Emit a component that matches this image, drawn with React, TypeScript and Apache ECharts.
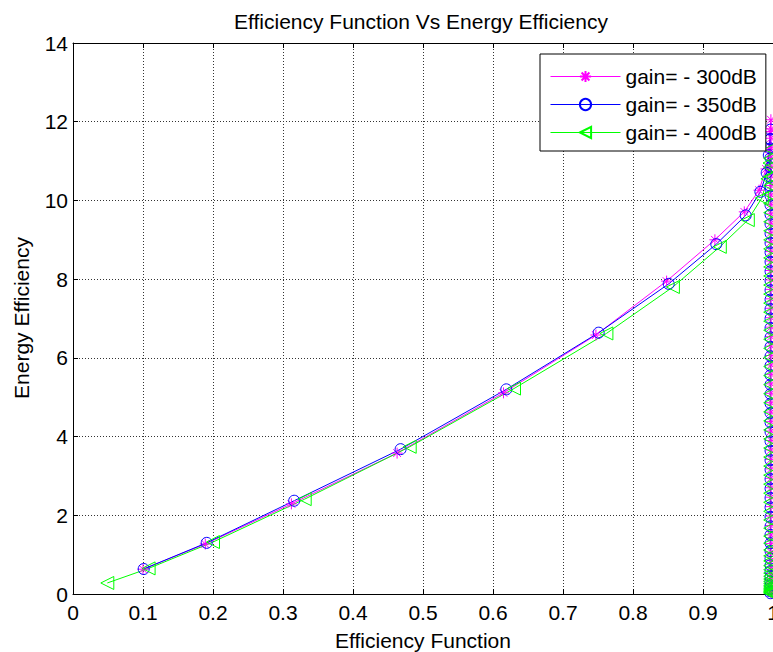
import React, { useEffect, useRef } from "react";
import * as echarts from "echarts";

const FONT = "'Liberation Sans', Arial, Helvetica, sans-serif";

const seriesNames = ["gain= - 300dB", "gain= - 350dB", "gain= - 400dB"];
const seriesColors = ["#ff00ff", "#0000ff", "#00ff00"];

const xTicks = [0, 0.1, 0.2, 0.3, 0.4, 0.5, 0.6, 0.7, 0.8, 0.9, 1];
const yTicks = [0, 2, 4, 6, 8, 10, 12, 14];

// rising part of each curve [efficiency function, energy efficiency]
const rise300: [number, number][] = [
  [0.1, 0.63], [0.189, 1.27], [0.312, 2.29], [0.463, 3.58], [0.615, 5.11],
  [0.747, 6.58], [0.848, 7.95], [0.917, 9.0], [0.959, 9.71], [0.98, 10.26],
  [0.99, 10.8], [0.994, 11.3], [0.996, 11.75],
];
const rise350: [number, number][] = [
  [0.101, 0.635], [0.191, 1.3], [0.316, 2.37], [0.468, 3.68], [0.619, 5.2],
  [0.751, 6.64], [0.851, 7.88], [0.919, 8.89], [0.961, 9.62], [0.982, 10.22],
  [0.991, 10.7], [0.994, 11.15], [0.996, 11.55],
];
const rise400: [number, number][] = [
  [0.049, 0.28], [0.108, 0.65], [0.2, 1.32], [0.331, 2.41], [0.481, 3.74],
  [0.63, 5.22], [0.762, 6.62], [0.857, 7.8], [0.924, 8.82], [0.964, 9.5],
  [0.984, 10.06], [0.992, 10.55], [0.995, 10.95],
];

// falling part near efficiency function ~ 1
const tailX300 = 0.997;
const tailX350 = 0.9965;
const tailX400 = 0.996;
const tail300 = [12.05, 11.82, 11.58, 11.34, 11.1, 10.86, 10.62, 10.38, 10.14, 9.9, 9.66, 9.42, 9.18, 8.94, 8.7, 8.46, 8.22, 7.98, 7.74, 7.5, 7.26, 7.02, 6.78, 6.54, 6.3, 6.06, 5.82, 5.58, 5.34, 5.1, 4.86, 4.62, 4.38, 4.14, 3.9, 3.66, 3.42, 3.18, 2.94, 2.7, 2.46, 2.22, 1.98, 1.74, 1.5, 1.28, 1.06, 0.86, 0.68, 0.52, 0.38, 0.26, 0.16, 0.08, 0.03];
const tail350 = [11.8, 11.56, 11.32, 11.08, 10.84, 10.6, 10.36, 10.12, 9.88, 9.64, 9.4, 9.16, 8.92, 8.68, 8.44, 8.2, 7.96, 7.72, 7.48, 7.24, 7.0, 6.76, 6.52, 6.28, 6.04, 5.8, 5.56, 5.32, 5.08, 4.84, 4.6, 4.36, 4.12, 3.88, 3.64, 3.4, 3.16, 2.92, 2.68, 2.44, 2.2, 1.96, 1.72, 1.5, 1.29, 1.09, 0.9, 0.73, 0.58, 0.44, 0.32, 0.22, 0.14, 0.07, 0.02];
const tail400 = [11.3, 11.07, 10.84, 10.61, 10.38, 10.15, 9.92, 9.69, 9.46, 9.23, 9.0, 8.77, 8.54, 8.31, 8.08, 7.85, 7.62, 7.39, 7.16, 6.93, 6.7, 6.47, 6.24, 6.01, 5.78, 5.55, 5.32, 5.09, 4.86, 4.63, 4.4, 4.17, 3.94, 3.71, 3.48, 3.25, 3.02, 2.79, 2.56, 2.33, 2.1, 1.88, 1.67, 1.47, 1.29, 1.12, 0.97, 0.84, 0.72, 0.62, 0.53, 0.45, 0.38, 0.32, 0.27, 0.22, 0.18, 0.14, 0.11, 0.08, 0.06, 0.04, 0.02];

const titleText = "Efficiency Function Vs Energy Efficiency";
const xName = "Efficiency Function";
const yName = "Energy Efficiency";

const ASTERISK = "path://M5,0L5,10M0,5L10,5M1.5,1.5L8.5,8.5M1.5,8.5L8.5,1.5";

export default function App() {
  const ref = useRef<HTMLDivElement>(null);
  useEffect(() => {
    if (!ref.current) return;
    const chart = echarts.init(ref.current, null, { renderer: "svg", width: 773, height: 652 });
    const build = (rise: [number, number][], tx: number, tail: number[]) =>
      rise.concat(tail.map((y) => [tx, y] as [number, number]));
    const datas = [
      build(rise300, tailX300, tail300),
      build(rise350, tailX350, tail350),
      build(rise400, tailX400, tail400),
    ];
    const symbols = [ASTERISK, "circle", "triangle"];
    const sizes = [11, 11, 13];
    const rotates = [0, 0, 90];
    const gridLine = { show: true, lineStyle: { color: "#333", type: [1, 2], width: 1 } };
    chart.setOption({
      animation: false,
      backgroundColor: "#fff",
      grid: {
        left: 73,
        right: 0,
        top: 43,
        bottom: 58,
        containLabel: false,
        outerBoundsMode: "none",
      },
      xAxis: [
        {
          type: "value",
          min: 0,
          max: 1,
          interval: 0.1,
          position: "bottom",
          axisLine: { show: true, onZero: false, lineStyle: { color: "#000", width: 1 } },
          axisTick: { show: true, inside: true, length: 5, lineStyle: { color: "#000" } },
          axisLabel: {
            color: "#000",
            fontSize: 21,
            fontFamily: FONT,
            margin: 8,
            formatter: (v: number) => {
              const found = xTicks.find((t) => Math.abs(t - v) < 1e-9);
              return found === undefined ? "" : String(found);
            },
          },
          splitLine: gridLine,
        },
        {
          type: "value",
          min: 0,
          max: 1,
          interval: 0.1,
          position: "top",
          axisLine: { show: true, onZero: false, lineStyle: { color: "#000", width: 1 } },
          axisTick: { show: true, inside: true, length: 5, lineStyle: { color: "#000" } },
          axisLabel: { show: false },
          splitLine: { show: false },
        },
      ],
      yAxis: {
        type: "value",
        min: yTicks[0],
        max: yTicks[yTicks.length - 1],
        interval: 2,
        axisLine: { show: true, onZero: false, lineStyle: { color: "#000", width: 1 } },
        axisTick: { show: true, inside: true, length: 5, lineStyle: { color: "#000" } },
        axisLabel: { color: "#000", fontSize: 21, fontFamily: FONT, margin: 5 },
        splitLine: gridLine,
      },
      legend: {
        orient: "vertical",
        left: 540,
        top: 54,
        backgroundColor: "#fff",
        borderColor: "#000",
        borderWidth: 1,
        padding: [12, 9, 8, 10],
        itemWidth: 70,
        itemHeight: 14,
        itemGap: 7,
        lineStyle: { width: 1 },
        textStyle: { color: "#000", fontSize: 21, fontFamily: FONT, lineHeight: 21 },
        data: seriesNames,
      },
      graphic: [
        {
          type: "text",
          x: 421,
          y: 21,
          style: { text: titleText, fill: "#000", font: `21px ${FONT}`, textAlign: "center", textVerticalAlign: "middle" },
        },
        {
          type: "text",
          x: 423,
          y: 640,
          style: { text: xName, fill: "#000", font: `21px ${FONT}`, textAlign: "center", textVerticalAlign: "middle" },
        },
        {
          type: "text",
          x: 21,
          y: 318,
          rotation: Math.PI / 2,
          style: { text: yName, fill: "#000", font: `21px ${FONT}`, textAlign: "center", textVerticalAlign: "middle" },
        },
      ],
      series: datas.map((d, i) => ({
        name: seriesNames[i],
        type: "line",
        data: d,
        symbol: symbols[i],
        symbolSize: sizes[i],
        symbolRotate: rotates[i],
        showSymbol: true,
        clip: false,
        color: seriesColors[i],
        lineStyle: { color: seriesColors[i], width: 1 },
        itemStyle: { color: "rgba(0,0,0,0)", borderColor: seriesColors[i], borderWidth: 1 },
        emphasis: { disabled: true },
      })),
    });
    return () => chart.dispose();
  }, []);
  return (
    <div
      ref={ref}
      style={{ position: "absolute", left: 0, top: 0, width: 773, height: 652 }}
    />
  );
}
